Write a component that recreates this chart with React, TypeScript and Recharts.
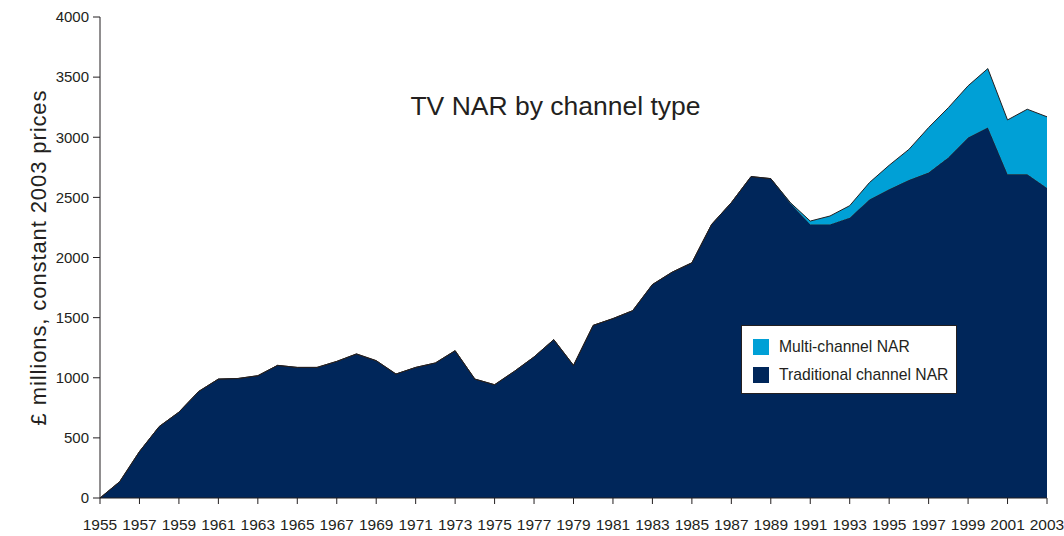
import { AreaChart, Area, XAxis, YAxis, Legend } from 'recharts';

const years = [
  1955, 1956, 1957, 1958, 1959, 1960, 1961, 1962, 1963, 1964,
  1965, 1966, 1967, 1968, 1969, 1970, 1971, 1972, 1973, 1974,
  1975, 1976, 1977, 1978, 1979, 1980, 1981, 1982, 1983, 1984,
  1985, 1986, 1987, 1988, 1989, 1990, 1991, 1992, 1993, 1994,
  1995, 1996, 1997, 1998, 1999, 2000, 2001, 2002, 2003,
];

const traditional = [
  0, 136, 386, 594, 714, 886, 989, 994, 1017, 1103,
  1086, 1086, 1136, 1198, 1142, 1031, 1086, 1123, 1225, 989,
  942, 1053, 1173, 1317, 1103, 1436, 1492, 1558, 1775, 1878,
  1956, 2275, 2456, 2673, 2656, 2450, 2275, 2275, 2331, 2483,
  2567, 2644, 2706, 2831, 2998, 3081, 2692, 2692, 2578,
];

const multiChannel = [
  0, 0, 0, 0, 0, 0, 0, 0, 0, 0,
  0, 0, 0, 0, 0, 0, 0, 0, 0, 0,
  0, 0, 0, 0, 0, 0, 0, 0, 0, 0,
  0, 0, 0, 0, 0, 5, 28, 70, 100, 140,
  200, 255, 375, 415, 430, 490, 452, 541, 592,
];

const xTicks = [
  1955, 1957, 1959, 1961, 1963, 1965, 1967, 1969, 1971, 1973, 1975, 1977, 1979,
  1981, 1983, 1985, 1987, 1989, 1991, 1993, 1995, 1997, 1999, 2001, 2003,
];
const yTicks = [0, 500, 1000, 1500, 2000, 2500, 3000, 3500, 4000];

const DARK = '#00265a';
const LIGHT = '#00a0d6';
const INK = '#231f20';
const FONT = '"Liberation Sans", Arial, Helvetica, sans-serif';

const data = years.map((year, i) => ({
  year,
  traditional: traditional[i],
  multi: multiChannel[i],
}));

const legendItems = [
  { label: 'Multi-channel NAR', color: LIGHT },
  { label: 'Traditional channel NAR', color: DARK },
];

function LegendBox() {
  return (
    <div
      style={{
        width: 216,
        height: 69,
        border: `1px solid ${INK}`,
        background: '#fff',
        fontFamily: FONT,
        fontSize: 15.7,
        color: INK,
        boxSizing: 'border-box',
        padding: '7px 0 0 11px',
      }}
    >
      {legendItems.map((item) => (
        <div key={item.label} style={{ display: 'flex', alignItems: 'center', height: 28 }}>
          <span style={{ width: 16, height: 16, background: item.color, marginRight: 10 }} />
          <span>{item.label}</span>
        </div>
      ))}
    </div>
  );
}

export default function App() {
  return (
    <div style={{ position: 'absolute', left: 0, top: 0, width: 1064, height: 536, background: '#fff' }}>
      <div
        style={{
          position: 'absolute',
          left: 0,
          width: 1111,
          top: 91,
          textAlign: 'center',
          fontFamily: FONT,
          fontSize: 26.5,
          color: INK,
          zIndex: 2,
          pointerEvents: 'none',
        }}
      >
        TV NAR by channel type
      </div>
      <AreaChart
        width={1064}
        height={536}
        data={data}
        margin={{ top: 17, right: 17, bottom: 8, left: 0 }}
      >
        <XAxis
          dataKey="year"
          type="number"
          domain={[1955, 2003]}
          ticks={xTicks}
          interval={0}
          height={30}
          stroke={INK}
          tickSize={6}
          tick={{ fill: INK, fontSize: 15.5, fontFamily: FONT, dy: 13 }}
          tickLine={{ stroke: INK }}
        />
        <YAxis
          width={100}
          domain={[0, 4000]}
          ticks={yTicks}
          interval={0}
          stroke={INK}
          tickSize={7}
          tick={{ fill: INK, fontSize: 15, fontFamily: FONT, dx: -2 }}
          tickLine={{ stroke: INK }}
          label={{
            value: '£ millions, constant 2003 prices',
            angle: -90,
            position: 'center',
            dx: -12,
            style: { fill: INK, fontSize: 22, letterSpacing: 0.9, fontFamily: FONT, textAnchor: 'middle' },
          }}
        />
        <Area
          type="linear"
          dataKey="traditional"
          name="Traditional channel NAR"
          stackId="1"
          fill={DARK}
          fillOpacity={1}
          stroke={INK}
          strokeWidth={1}
          isAnimationActive={false}
        />
        <Area
          type="linear"
          dataKey="multi"
          name="Multi-channel NAR"
          stackId="1"
          fill={LIGHT}
          fillOpacity={1}
          stroke={INK}
          strokeWidth={1}
          isAnimationActive={false}
        />
        <Legend
          layout="horizontal"
          verticalAlign="middle"
          align="center"
          content={<LegendBox />}
          wrapperStyle={{ position: 'absolute', left: 741, top: 325, width: 'auto' }}
        />
      </AreaChart>
    </div>
  );
}
